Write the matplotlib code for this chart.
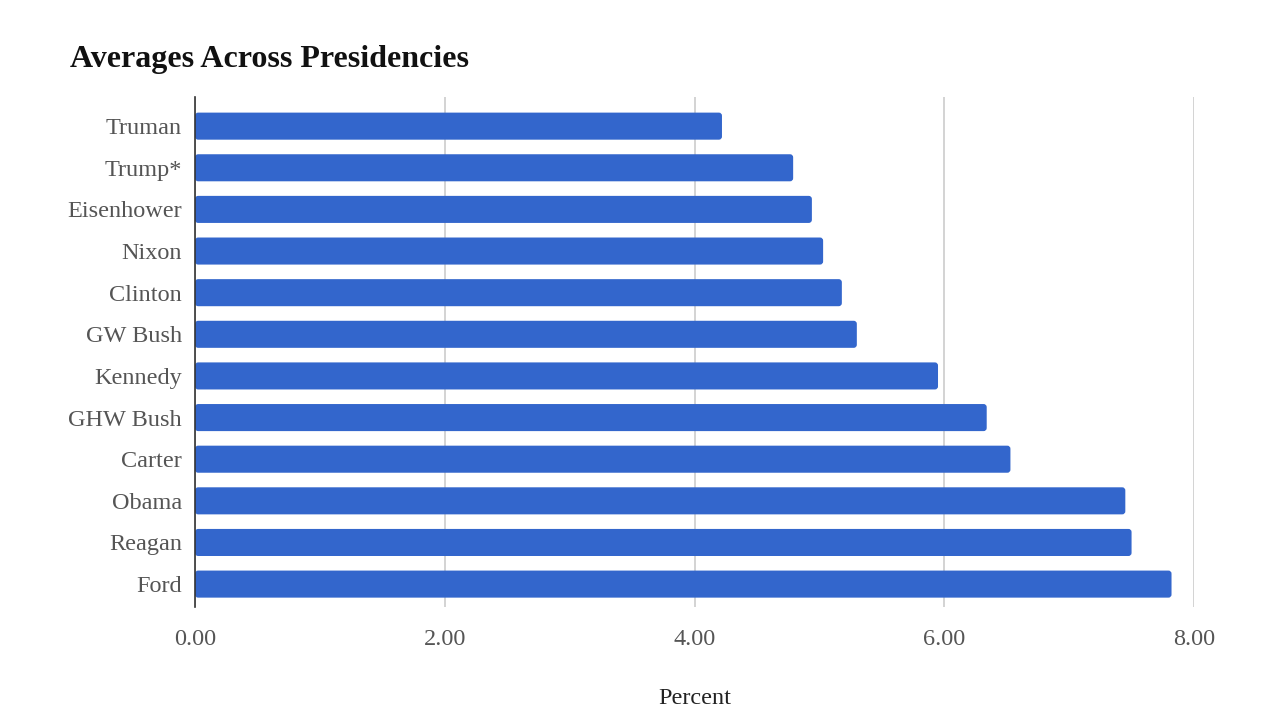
import matplotlib.pyplot as plt
from matplotlib.patches import FancyBboxPatch
import numpy as np

presidents = ['Truman', 'Trump*', 'Eisenhower', 'Nixon', 'Clinton', 'GW Bush',
              'Kennedy', 'GHW Bush', 'Carter', 'Obama', 'Reagan', 'Ford']
averages = [4.22, 4.79, 4.94, 5.03, 5.18, 5.30, 5.95, 6.34, 6.53, 7.45, 7.50, 7.82]
xticks = [0, 2, 4, 6, 8]

plt.rcParams['font.family'] = ['Liberation Serif', 'DejaVu Serif']

fig = plt.figure(figsize=(12.8, 7.26), dpi=100)
ax = fig.add_axes([195 / 1280, 1 - 607 / 726, 999 / 1280, 510 / 726])

y = np.arange(len(presidents))
bars = ax.barh(y, averages, height=0.65, color='#3366cc', zorder=3)

# swap the plain rectangles for slightly rounded ones
for b in bars:
    b.set_visible(False)
    ax.add_patch(FancyBboxPatch((b.get_x(), b.get_y()), b.get_width(), b.get_height(),
                                boxstyle='round,pad=0,rounding_size=0.025',
                                mutation_aspect=3.0, facecolor='#3366cc',
                                edgecolor='none', zorder=3))

ax.set_xlim(0, 8)
ax.set_ylim(11.55, -0.7)
ax.set_yticks(y)
ax.set_yticklabels(presidents, fontsize=17.5, color='#555555')
ax.set_xticks(xticks)
ax.set_xticklabels(['%.2f' % t for t in xticks], fontsize=17.5, color='#555555')
ax.tick_params(axis='both', length=0)
ax.tick_params(axis='y', pad=9.5)
ax.tick_params(axis='x', pad=16)

ax.grid(axis='x', color='#cccccc', linewidth=1.2, zorder=0)
for s in ['top', 'right', 'bottom']:
    ax.spines[s].set_visible(False)
ax.spines['left'].set_color('#333333')
ax.spines['left'].set_linewidth(1.2)
ax.spines['left'].set_zorder(4)

ax.set_xlabel('Percent', fontsize=17.5, color='#222222', labelpad=27)
fig.text(70 / 1280, 1 - 60 / 726, 'Averages Across Presidencies', fontsize=23,
         fontweight='bold', color='#111111', va='center', ha='left')

fig.savefig('out.png', dpi=100)
